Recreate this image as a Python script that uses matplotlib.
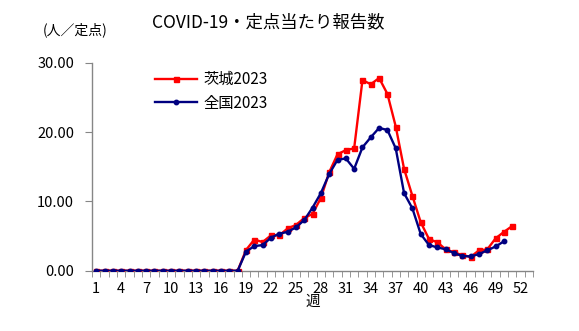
import matplotlib
matplotlib.use("Agg")
import matplotlib.pyplot as plt
from matplotlib.ticker import FixedLocator, FuncFormatter

plt.rcParams['font.family'] = ['Noto Sans CJK JP', 'DejaVu Sans']

# Weekly reports per sentinel site, 2023 (weeks 1..53 on the axis)
weeks = list(range(1, 54))
ibaraki_2023 = [0.0] * 18 + [
    2.98, 4.5, 4.14, 5.1, 5.1, 6.1, 6.6, 7.6, 8.2, 10.5,
    14.2, 16.8, 17.4, 17.65, 27.5, 26.9, 27.8, 25.5, 20.8, 14.7,
    10.8, 7.0, 4.57, 4.1, 3.09, 2.65, 2.26, 2.0, 2.94, 3.08,
    4.67, 5.6, 6.45,
]
national_2023 = [0.0] * 18 + [
    2.75, 3.56, 3.7, 4.77, 5.35, 5.6, 6.26, 7.3, 9.1, 11.2,
    13.95, 16.0, 16.2, 14.7, 17.8, 19.25, 20.6, 20.3, 17.65, 11.2,
    9.0, 5.3, 3.7, 3.37, 3.09, 2.55, 2.12, 2.07, 2.4, 2.94,
    3.5, 4.24,
]
week_labels = list(range(1, 53, 3))
y_ticks = [0, 10, 20, 30]

fig = plt.figure(figsize=(5.79, 3.31), dpi=100)
ax = fig.add_axes([0.159, 0.182, 0.7616, 0.6284])

x_ib = [weeks[i] for i in range(len(ibaraki_2023))]
x_nat = [weeks[i] for i in range(len(national_2023))]
ax.plot(x_ib, ibaraki_2023, color='#FF0000', lw=1.7, marker='s', ms=3.6,
        label='茨城2023', zorder=3)
ax.plot(x_nat, national_2023, color='#000080', lw=1.7, marker='o', ms=3.2,
        label='全国2023', zorder=4)

ax.set_xlim(weeks[0] - 0.5, weeks[-1] + 0.5)
ax.set_ylim(0, 30)

for s in ('top', 'right'):
    ax.spines[s].set_visible(False)
for s in ('left', 'bottom'):
    ax.spines[s].set_color('#868686')
    ax.spines[s].set_linewidth(1.0)

ax.yaxis.set_major_locator(FixedLocator(y_ticks))
ax.yaxis.set_major_formatter(FuncFormatter(lambda v, p: f'{v:.2f}'))
ax.tick_params(axis='y', direction='out', length=5, color='#868686',
               labelsize=10.5, pad=8)

ax.xaxis.set_major_locator(FixedLocator(week_labels))
ax.xaxis.set_major_formatter(FuncFormatter(lambda v, p: f'{int(round(v))}'))
ax.xaxis.set_minor_locator(FixedLocator([w + 0.5 for w in [weeks[0] - 1] + weeks]))
ax.tick_params(axis='x', which='major', length=0, labelsize=10.5, pad=8)
ax.tick_params(axis='x', which='minor', direction='out', length=4,
               color='#868686')

ax.set_xlabel('週', fontsize=10.5, labelpad=-1)

fig.text(0.463, 0.934, 'COVID-19・定点当たり報告数', fontsize=12.5,
         ha='center', va='center')
fig.text(0.13, 0.91, '(人／定点)', fontsize=10, ha='center', va='center')

ax.legend(loc='upper left', bbox_to_anchor=(0.128, 0.99), frameon=False,
          fontsize=11, handlelength=2.8, handletextpad=0.4, labelspacing=0.45,
          borderaxespad=0)

fig.savefig('out.png', dpi=100)
